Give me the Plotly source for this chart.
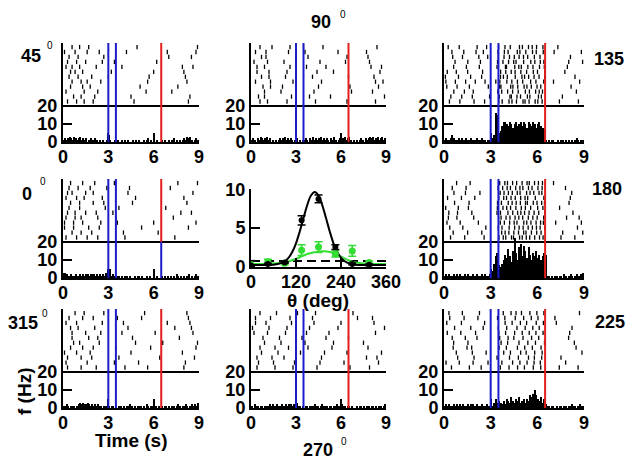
"""Rasters + PSTH for 8 directions with a tuning curve in the middle."""

import numpy as np
import plotly.graph_objects as go

W, H = 640, 459
PAD = 8  # default body margin of the html page
FONT = 'Liberation Sans, Arial, sans-serif'

# ---- data -----------------------------------------------------------------
ANGLES = [45, 90, 135, 0, 180, 315, 270, 225]

# spike times (s) per trial, 12 trials per direction
RASTER_45 = [
    [0.3, 0.9, 1.4, 2.0, 4.7, 8.3], [0.2, 0.6, 1.1, 2.2, 3.9, 7.9, 8.6],
    [0.5, 1.3, 1.8, 5.1, 7.6], [0.1, 0.8, 1.6, 2.4, 4.2, 6.9, 8.8],
    [0.4, 1.0, 1.9, 3.0, 5.7, 8.1], [0.7, 1.2, 2.1, 4.5, 8.4],
    [0.3, 0.9, 1.5, 2.6, 3.4, 6.2], [0.6, 1.1, 1.7, 4.9, 8.9],
    [0.2, 1.4, 2.3, 5.5, 7.2], [0.5, 0.8, 1.3, 3.2, 6.0, 8.0],
    [0.4, 1.0, 2.7, 7.0, 8.5], [0.6, 1.2, 1.6, 2.5, 5.6, 8.2],
]
RASTER_90 = [
    [0.6, 1.1, 2.4, 4.3, 6.4, 8.3], [0.4, 0.9, 2.6, 3.7, 5.0, 8.0, 8.7],
    [0.8, 1.3, 2.1, 4.5, 6.6, 8.5], [0.3, 1.0, 2.5, 3.6, 5.8, 7.7],
    [0.7, 1.2, 2.3, 4.1, 6.5, 8.2], [0.5, 0.9, 2.7, 3.9, 5.3, 8.9],
    [0.2, 1.1, 2.2, 4.6, 6.3, 7.9], [0.6, 1.4, 2.6, 3.5, 4.8, 8.4],
    [0.9, 2.0, 4.2, 6.7, 8.1], [0.4, 1.2, 2.4, 4.4, 5.5, 8.6],
    [0.7, 1.0, 3.8, 6.4, 7.8], [0.3, 1.3, 2.8, 4.7, 8.3, 8.8],
]
RASTER_135 = [
    [0.35, 1.02, 1.93, 2.61, 3.52, 3.74, 4.18, 4.37, 4.66, 5.08, 5.21, 5.47, 5.86, 6.03, 6.31, 7.42, 8.64],
    [0.62, 1.44, 2.27, 3.41, 3.95, 4.02, 4.55, 4.81, 4.97, 5.39, 5.72, 6.14, 6.45, 7.93],
    [0.18, 0.84, 1.63, 2.85, 3.58, 3.66, 4.29, 4.43, 4.74, 5.15, 5.33, 5.61, 5.98, 6.22, 8.17],
    [0.51, 1.27, 2.06, 2.53, 3.47, 3.88, 4.12, 4.71, 4.88, 5.26, 5.69, 5.93, 6.38, 7.08, 8.83],
    [0.09, 0.93, 1.71, 2.42, 3.63, 3.82, 4.07, 4.58, 5.01, 5.18, 5.44, 5.79, 6.11, 6.47, 8.42],
    [0.44, 1.14, 1.82, 2.93, 3.55, 4.24, 4.33, 4.69, 4.92, 5.36, 5.52, 6.07, 6.26, 7.61],
    [0.71, 1.53, 2.34, 3.44, 3.79, 4.15, 4.48, 4.63, 5.12, 5.58, 5.84, 6.19, 6.42, 8.02, 8.91],
    [0.27, 0.98, 2.13, 2.74, 3.51, 3.92, 4.26, 4.85, 5.04, 5.43, 5.67, 5.95, 6.36, 7.32],
    [0.63, 1.31, 1.88, 3.46, 3.71, 4.09, 4.41, 4.77, 5.23, 5.49, 5.89, 6.12, 6.33, 8.51],
    [0.21, 0.79, 1.52, 2.48, 3.64, 3.97, 4.32, 4.57, 4.94, 5.31, 5.74, 6.01, 6.48, 7.77],
    [0.56, 1.19, 2.24, 2.81, 3.49, 3.86, 4.21, 4.52, 4.83, 5.11, 5.38, 5.81, 6.17, 8.13],
    [0.12, 0.73, 1.39, 2.01, 2.64, 3.33, 3.59, 4.04, 4.36, 4.72, 5.06, 5.57, 5.91, 6.41, 7.04, 8.72],
]
RASTER_0 = [
    [0.2, 0.9, 1.6, 2.3, 4.1, 7.4], [0.5, 1.1, 2.0, 2.7, 4.6, 8.2],
    [0.1, 0.7, 1.3, 2.5, 3.6, 6.0, 8.8], [0.4, 1.0, 1.8, 2.9, 4.4, 7.1],
    [0.3, 0.8, 1.5, 2.2, 3.3, 7.8, 8.5], [0.6, 1.2, 1.9, 4.0, 6.3],
    [0.2, 0.9, 1.4, 2.6, 4.8, 8.0], [0.5, 1.3, 2.1, 3.4, 7.6, 8.9],
    [0.1, 0.7, 1.7, 2.4, 5.2, 8.3], [0.4, 1.1, 2.8, 3.7, 6.8],
    [0.3, 0.6, 1.5, 2.0, 4.3, 8.6], [0.2, 0.8, 1.2, 2.3, 3.5, 7.3],
]
RASTER_180 = [
    [0.42, 1.33, 2.58, 3.53, 3.81, 3.97, 4.34, 4.47, 4.86, 5.03, 5.29, 5.51, 5.83, 6.14, 6.37, 7.52, 8.41],
    [0.68, 1.61, 3.44, 3.69, 4.13, 4.38, 4.64, 4.91, 5.24, 5.36, 5.74, 5.98, 6.28, 6.46, 8.04],
    [0.19, 1.04, 2.21, 3.62, 3.88, 4.22, 4.51, 4.69, 5.13, 5.32, 5.59, 5.92, 6.21, 6.39, 7.18, 8.83],
    [0.53, 1.42, 3.48, 3.77, 4.06, 4.27, 4.61, 4.88, 5.07, 5.43, 5.66, 6.04, 6.31, 7.81],
    [0.31, 0.87, 1.79, 3.41, 3.63, 4.11, 4.42, 4.73, 4.94, 5.18, 5.47, 5.79, 6.09, 6.48, 8.29],
    [0.59, 1.52, 2.43, 3.71, 3.93, 4.17, 4.49, 4.79, 5.12, 5.27, 5.62, 5.96, 6.24, 7.63, 8.92],
    [0.23, 1.12, 1.98, 3.52, 3.84, 4.02, 4.31, 4.58, 4.93, 5.21, 5.38, 5.87, 6.42, 8.12],
    [0.81, 1.68, 3.58, 3.91, 4.08, 4.41, 4.67, 5.02, 5.34, 5.48, 5.82, 6.07, 6.33, 7.04],
    [0.37, 1.21, 2.69, 3.49, 3.73, 4.19, 4.54, 4.83, 5.09, 5.41, 5.68, 5.94, 6.18, 6.47, 8.58],
    [0.11, 0.92, 1.57, 3.43, 3.79, 4.03, 4.28, 4.62, 4.97, 5.23, 5.57, 6.02, 6.36, 7.43],
    [0.64, 1.38, 2.31, 3.61, 3.86, 4.14, 4.39, 4.71, 4.89, 5.31, 5.53, 5.77, 6.11, 6.29, 8.21],
    [0.28, 0.83, 1.91, 3.51, 3.67, 3.99, 4.24, 4.57, 4.81, 5.06, 5.42, 5.71, 5.99, 6.41, 7.88, 8.69],
]
RASTER_315 = [
    [0.3, 1.2, 2.2, 4.1, 5.6, 8.0], [0.6, 1.5, 2.5, 3.9, 6.1, 8.6],
    [0.1, 0.9, 1.8, 4.5, 7.9], [0.4, 1.3, 2.0, 3.6, 5.2, 8.3],
    [0.7, 1.1, 2.4, 4.8, 6.6, 8.9], [0.2, 1.6, 3.4, 5.0, 8.1],
    [0.5, 1.0, 2.1, 4.3, 7.4, 8.5], [0.8, 1.4, 2.7, 5.4, 8.2],
    [0.3, 1.2, 1.9, 3.7, 6.4, 8.7], [0.6, 1.7, 2.3, 4.6, 7.7],
    [0.2, 0.9, 2.6, 4.0, 6.9, 8.4], [0.5, 1.3, 2.0, 3.5, 5.8, 8.8],
]
RASTER_270 = [
    [0.4, 1.6, 2.8, 4.4, 6.6, 7.9], [0.2, 1.1, 2.3, 3.7, 5.2, 8.3],
    [0.7, 1.8, 3.3, 4.9, 6.4, 8.7], [0.3, 1.3, 2.6, 4.1, 7.1, 8.1],
    [0.9, 2.0, 3.6, 5.5, 7.5], [0.5, 1.5, 2.9, 4.6, 6.2, 8.5],
    [0.1, 1.2, 2.4, 3.9, 5.8, 8.9], [0.6, 1.7, 3.1, 4.3, 6.8],
    [0.4, 1.4, 2.2, 4.7, 7.7, 8.4], [0.8, 1.9, 3.4, 5.0, 6.5],
    [0.3, 1.0, 2.7, 4.2, 6.0, 8.2], [0.6, 1.6, 2.5, 3.8, 5.4, 7.8],
]
RASTER_225 = [
    [0.48, 1.63, 2.39, 3.62, 4.18, 4.73, 5.17, 5.74, 6.22, 7.41, 8.62],
    [0.21, 1.08, 2.03, 3.52, 3.96, 4.54, 5.03, 5.48, 5.91, 6.37, 8.08],
    [0.79, 1.82, 2.71, 3.84, 4.27, 4.93, 5.28, 5.83, 6.31, 8.87],
    [0.37, 1.29, 2.18, 3.44, 3.91, 4.58, 5.12, 5.61, 6.04, 7.13],
    [0.62, 1.54, 3.67, 4.09, 4.82, 5.39, 5.88, 6.46, 8.38],
    [0.13, 0.98, 1.87, 2.83, 3.72, 4.41, 4.88, 5.34, 5.79, 6.19, 7.82],
    [0.68, 1.72, 2.52, 3.49, 4.03, 4.69, 5.22, 5.71, 6.12, 8.23],
    [0.32, 1.18, 2.28, 3.81, 4.31, 4.63, 4.98, 5.52, 5.97, 6.42, 8.71],
    [0.88, 1.93, 3.41, 4.21, 4.78, 5.43, 5.81, 6.28, 7.52],
    [0.53, 1.37, 2.12, 3.58, 4.12, 4.49, 5.08, 5.63, 6.09, 8.01],
    [0.18, 1.12, 2.61, 3.93, 4.38, 4.91, 5.31, 5.93, 6.39, 7.22],
    [0.59, 1.48, 1.78, 3.54, 4.01, 4.72, 5.19, 5.68, 6.24, 8.49],
]
# row on which each trial is drawn (bottom row = 0)
TRIAL_ROW = [0, 7, 3, 10, 5, 1, 8, 11, 2, 6, 9, 4]

# PSTH rates (Hz), 0.1 s bins from 0 to 9 s
BIN_W = 0.1
PSTH_45 = [1, 2, 1, 2, 3, 2, 1, 3, 2, 1, 2, 3, 1, 2, 1, 2, 0, 1, 2, 1,
           1, 2, 1, 0, 1, 0, 1, 0, 0, 1, 4, 1, 0, 0, 1, 0, 1, 0, 0, 1,
           0, 1, 0, 1, 0, 0, 1, 0, 1, 0, 1, 0, 0, 1, 0, 1, 2, 0, 1, 0,
           1, 0, 1, 0, 0, 1, 0, 1, 0, 0, 1, 0, 1, 2, 0, 1, 0, 1, 0, 1,
           2, 1, 3, 2, 3, 1, 0, 1, 2, 1]
PSTH_90 = [1, 2, 1, 0, 2, 1, 3, 2, 1, 2, 3, 1, 2, 0, 1, 0, 1, 0, 1, 2,
           1, 2, 3, 1, 2, 1, 2, 1, 0, 1, 2, 0, 1, 0, 1, 1, 2, 1, 0, 2,
           1, 3, 1, 2, 1, 2, 3, 1, 2, 1, 2, 1, 0, 2, 1, 3, 1, 0, 1, 2,
           1, 2, 3, 1, 2, 3, 1, 0, 1, 0, 1, 0, 1, 2, 1, 0, 2, 1, 2, 3,
           2, 3, 1, 2, 3, 1, 2, 3, 1, 2]
PSTH_135 = [1, 2, 1, 1, 2, 4, 2, 1, 1, 2, 1, 2, 1, 1, 2, 1, 1, 2, 1, 1,
            1, 2, 1, 1, 2, 1, 1, 0, 1, 1, 3, 2, 4, 16, 15, 5, 6, 9, 11, 11,
            10, 9, 11, 10, 8, 10, 11, 9, 10, 11, 9, 11, 10, 8, 11, 10, 9, 11, 10, 8,
            10, 11, 9, 8, 7, 1, 0, 1, 0, 1, 1, 0, 0, 1, 0, 1, 1, 0, 1, 0,
            1, 0, 1, 0, 1, 2, 1, 0, 1, 1]
PSTH_0 = [3, 3, 2, 1, 1, 2, 1, 1, 2, 1, 1, 2, 1, 2, 1, 2, 2, 1, 2, 2,
          2, 1, 2, 1, 2, 1, 2, 1, 3, 2, 5, 5, 1, 2, 1, 0, 1, 1, 0, 1,
          0, 1, 1, 0, 1, 0, 0, 1, 0, 1, 1, 0, 1, 0, 0, 1, 0, 1, 0, 0,
          1, 0, 1, 0, 0, 1, 0, 1, 0, 1, 0, 1, 0, 1, 0, 2, 1, 0, 1, 0,
          1, 0, 1, 2, 0, 1, 0, 1, 2, 1]
PSTH_180 = [1, 2, 1, 2, 1, 1, 2, 1, 2, 1, 2, 1, 1, 2, 1, 2, 1, 1, 2, 1,
            1, 2, 1, 1, 2, 1, 2, 1, 1, 2, 2, 4, 8, 12, 14, 7, 6, 8, 10, 13,
            11, 16, 12, 9, 15, 22, 14, 10, 17, 19, 12, 18, 15, 11, 17, 13, 10, 14, 12, 15,
            11, 13, 10, 12, 14, 13, 1, 1, 0, 1, 0, 1, 1, 0, 1, 1, 0, 2, 1, 0,
            1, 2, 1, 0, 1, 2, 1, 1, 2, 3]
PSTH_315 = [1, 1, 2, 1, 0, 1, 1, 1, 0, 1, 2, 3, 2, 3, 2, 2, 3, 2, 1, 2,
            1, 2, 1, 2, 1, 1, 0, 1, 1, 0, 1, 0, 1, 1, 0, 1, 0, 1, 1, 0,
            1, 0, 1, 1, 2, 1, 0, 1, 0, 1, 1, 1, 0, 1, 0, 2, 1, 0, 1, 1,
            3, 1, 0, 1, 0, 1, 0, 1, 1, 0, 1, 0, 1, 1, 0, 1, 2, 1, 0, 1,
            1, 2, 1, 0, 1, 2, 1, 2, 1, 3]
PSTH_270 = [1, 0, 2, 1, 1, 0, 1, 1, 0, 1, 1, 1, 2, 1, 2, 1, 1, 2, 1, 1,
            2, 1, 1, 2, 1, 2, 2, 1, 2, 1, 3, 1, 1, 0, 1, 0, 1, 1, 0, 1,
            1, 1, 2, 1, 1, 0, 1, 2, 1, 1, 1, 0, 1, 1, 0, 1, 1, 2, 1, 1,
            2, 1, 1, 0, 1, 1, 0, 1, 0, 0, 1, 0, 1, 1, 0, 1, 0, 1, 1, 0,
            1, 1, 0, 1, 0, 1, 1, 0, 1, 2]
PSTH_225 = [1, 2, 1, 2, 1, 1, 2, 1, 2, 1, 2, 1, 2, 1, 1, 2, 1, 2, 2, 1,
            1, 2, 1, 1, 2, 1, 1, 2, 1, 1, 2, 1, 3, 5, 3, 4, 3, 2, 4, 2,
            5, 4, 3, 6, 4, 3, 5, 4, 6, 3, 4, 5, 3, 5, 4, 7, 6, 8, 10, 7,
            5, 4, 6, 3, 5, 2, 1, 1, 0, 1, 1, 0, 1, 0, 1, 1, 0, 1, 1, 0,
            1, 1, 2, 1, 1, 0, 1, 2, 1, 1]

RASTERS = [RASTER_45, RASTER_90, RASTER_135, RASTER_0, RASTER_180,
           RASTER_315, RASTER_270, RASTER_225]
PSTHS = [PSTH_45, PSTH_90, PSTH_135, PSTH_0, PSTH_180,
         PSTH_315, PSTH_270, PSTH_225]

# event times (s)
T_BLUE = [3.0, 3.5]
T_RED = 6.5

# tuning curve (centre panel)
THETA_PTS = [0, 45, 90, 135, 180, 225, 270, 315]
RATE_BLACK = [0.1, 0.3, 0.5, 6.0, 8.8, 2.5, 0.3, 0.2]
ERR_BLACK = [0.1, 0.1, 0.1, 0.6, 0.5, 0.3, 0.1, 0.1]
RATE_GREEN = [0.2, 0.6, 0.4, 2.1, 2.5, 1.6, 2.0, 0.5]
ERR_GREEN = [0.1, 0.3, 0.2, 0.7, 0.7, 0.4, 0.7, 0.2]

THETA_FIT_BLACK = [0, 30, 60, 80, 90, 100, 110, 120, 130, 140, 150, 160, 170,
                   180, 190, 200, 210, 220, 230, 240, 250, 260, 280, 300, 330, 360]
FIT_BLACK = [0.15, 0.15, 0.2, 0.4, 0.65, 1.1, 1.85, 3.0, 4.55, 6.3, 8.0, 9.25, 9.7,
             9.25, 8.0, 6.3, 4.55, 3.0, 1.85, 1.1, 0.65, 0.4, 0.2, 0.15, 0.15, 0.15]
THETA_FIT_GREEN = [0, 30, 60, 90, 105, 120, 135, 150, 165, 180, 195, 210, 225,
                   240, 255, 270, 285, 300, 330, 360]
FIT_GREEN = [0.3, 0.3, 0.35, 0.5, 0.7, 0.95, 1.3, 1.6, 1.8, 1.9, 1.95, 1.85, 1.6,
             1.25, 0.9, 0.6, 0.45, 0.35, 0.3, 0.3]
BASELINE = 0.7

# ---- layout helpers -------------------------------------------------------
COLS = [(63, 199), (251, 386), (444, 584)]
ROWS = [(43, 142), (179, 278), (309, 408)]
# panel slot (row, col) for each angle; centre slot holds the tuning curve
SLOTS = [(0, 0), (0, 1), (0, 2), (1, 0), (1, 2), (2, 0), (2, 1), (2, 2)]

BLUE = '#1c1cc8'
RED = '#e31e1e'
GREEN = '#33dd33'

FW, FH = W - PAD, H - PAD  # figure size, page pixels shifted by PAD


def fx(p):
    return (p - PAD) / FW


def fy(p):
    return 1 - (p - PAD) / FH


def ax_names(n):
    s = '' if n == 1 else str(n)
    return 'x' + s, 'y' + s, 'xaxis' + s, 'yaxis' + s


TICKFONT = dict(family=FONT, size=18, color='black', weight='bold')
AXIS_COMMON = dict(showline=True, linewidth=2, linecolor='black', ticks='inside',
                   ticklen=9, tickwidth=2, tickcolor='black', showgrid=False,
                   zeroline=False, tickfont=TICKFONT, fixedrange=True,
                   automargin=False)

fig = go.Figure()
layout_axes = {}
shapes = []

for i, (ang, trials, psth, slot) in enumerate(zip(ANGLES, RASTERS, PSTHS, SLOTS)):
    n = i + 1
    xr, yr, xa, ya = ax_names(n)
    r, c = slot
    layout_axes[xa] = dict(AXIS_COMMON, domain=[fx(COLS[c][0]), fx(COLS[c][1])],
                           anchor=yr, range=[0, 9], tickvals=[0, 3, 6, 9],
                           ticklabelstandoff=-3)
    layout_axes[ya] = dict(AXIS_COMMON, domain=[fy(ROWS[r][1]), fy(ROWS[r][0])],
                           anchor=xr, range=[0, 55], tickvals=[0, 10, 20])

    # PSTH
    centres = np.arange(len(psth)) * BIN_W + BIN_W / 2
    fig.add_trace(go.Bar(x=centres, y=psth, width=BIN_W, xaxis=xr, yaxis=yr,
                         marker=dict(color='black', line=dict(width=0))))

    # raster ticks
    xs, ys = [], []
    for k, spikes in enumerate(trials):
        y0 = 21.3 + TRIAL_ROW[k] * 2.75
        for t in spikes:
            xs += [t, t, None]
            ys += [y0, y0 + 2.4, None]
    fig.add_trace(go.Scatter(x=xs, y=ys, mode='lines', xaxis=xr, yaxis=yr,
                             line=dict(color='black', width=1.3)))

    # separator between PSTH and raster
    shapes.append(dict(type='line', xref=xr, yref=yr, x0=0, x1=9, y0=20, y1=20,
                       line=dict(color='black', width=2)))
    for t in T_BLUE:
        shapes.append(dict(type='line', xref=xr, yref=yr, x0=t, x1=t, y0=0, y1=55,
                           line=dict(color=BLUE, width=2)))
    if ang == 0:
        # in this panel the lower half of the offset line is blue
        shapes.append(dict(type='line', xref=xr, yref=yr, x0=T_RED, x1=T_RED,
                           y0=20, y1=55, line=dict(color=RED, width=2)))
        shapes.append(dict(type='line', xref=xr, yref=yr, x0=T_RED, x1=T_RED,
                           y0=0, y1=20, line=dict(color=BLUE, width=2)))
    else:
        shapes.append(dict(type='line', xref=xr, yref=yr, x0=T_RED, x1=T_RED,
                           y0=0, y1=55, line=dict(color=RED, width=2)))

# ---- tuning curve panel ---------------------------------------------------
xr, yr, xa, ya = ax_names(9)
layout_axes[xa] = dict(AXIS_COMMON, domain=[fx(251), fx(386)], anchor=yr,
                       range=[0, 360], tickvals=[0, 120, 240, 360],
                       ticklabelstandoff=-3)
layout_axes[ya] = dict(AXIS_COMMON, domain=[fy(267), fy(189)], anchor=xr,
                       range=[-0.1, 10.1], tickvals=[0, 5, 10])

fig.add_trace(go.Scatter(x=[0, 360], y=[BASELINE, BASELINE], mode='lines',
                         xaxis=xr, yaxis=yr,
                         line=dict(color='black', width=2, dash='9px,5px')))
fig.add_trace(go.Scatter(x=THETA_FIT_GREEN, y=FIT_GREEN, mode='lines', xaxis=xr, yaxis=yr,
                         line=dict(color=GREEN, width=2, shape='spline')))
fig.add_trace(go.Scatter(x=THETA_FIT_BLACK, y=FIT_BLACK, mode='lines', xaxis=xr, yaxis=yr,
                         line=dict(color='black', width=2, shape='spline')))
fig.add_trace(go.Scatter(x=THETA_PTS, y=RATE_GREEN, mode='markers', xaxis=xr, yaxis=yr,
                         marker=dict(color=GREEN, size=7),
                         error_y=dict(type='data', array=ERR_GREEN, color=GREEN,
                                      thickness=1.5, width=4)))
fig.add_trace(go.Scatter(x=THETA_PTS, y=RATE_BLACK, mode='markers', xaxis=xr, yaxis=yr,
                         marker=dict(color='black', size=6),
                         error_y=dict(type='data', array=ERR_BLACK, color='black',
                                      thickness=1.5, width=4)))

# ---- text -----------------------------------------------------------------
annotations = []
# (label, label x, label y, degree-mark x, degree-mark y) in page pixels
LABEL_POS = [('45', 31, 56, 50, 46), ('90', 321, 22, 343, 14), ('135', 609, 59, 635, 47),
             ('0', 27, 194, 43, 182), ('180', 607, 189, 635, 181),
             ('315', 23, 323, 45, 313), ('270', 318, 450, 344, 441),
             ('225', 610, 322, 635, 313)]
for txt, lx, ly, dx, dy in LABEL_POS:
    annotations.append(dict(text=txt, x=fx(lx), y=fy(ly), xref='paper', yref='paper',
                            showarrow=False, xanchor='center', yanchor='middle',
                            font=dict(family=FONT, size=18, color='black', weight='bold')))
    annotations.append(dict(text='0', x=fx(dx), y=fy(dy), xref='paper', yref='paper',
                            showarrow=False, xanchor='center', yanchor='middle',
                            font=dict(family=FONT, size=10, color='black')))

TITLE_FONT = dict(family=FONT, size=19, color='black', weight='bold')
annotations.append(dict(text='Time (s)', x=fx(131), y=fy(440), xref='paper', yref='paper',
                        showarrow=False, xanchor='center', yanchor='middle', font=TITLE_FONT))
annotations.append(dict(text='θ (deg)', x=fx(318), y=fy(300), xref='paper', yref='paper',
                        showarrow=False, xanchor='center', yanchor='middle', font=TITLE_FONT))
annotations.append(dict(text='f (Hz)', x=fx(24), y=fy(392), xref='paper', yref='paper',
                        showarrow=False, xanchor='center', yanchor='middle', textangle=-90,
                        font=TITLE_FONT))

fig.update_layout(
    width=FW, height=FH,
    margin=dict(l=0, r=0, t=0, b=0),
    paper_bgcolor='white', plot_bgcolor='white',
    showlegend=False, bargap=0,
    shapes=shapes, annotations=annotations,
    **layout_axes,
)

fig.write_html("out.html")
